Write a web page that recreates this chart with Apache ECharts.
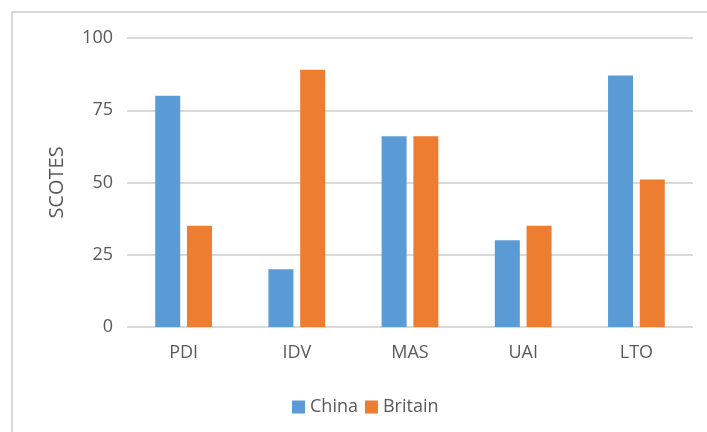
<!DOCTYPE html>
<html>
<head>
<meta charset="utf-8">
<script src="https://cdn.jsdelivr.net/npm/echarts@6/dist/echarts.min.js"></script>
<style>
html,body{margin:0;padding:0;background:#fff;}
#chart{width:707px;height:432px;}
</style>
</head>
<body>
<div id="chart"></div>
<script>
const categories = ['PDI', 'IDV', 'MAS', 'UAI', 'LTO'];
const chinaValues = [80, 20, 66, 30, 87];
const britainValues = [35, 89, 66, 35, 51];
const yTicks = [0, 25, 50, 75, 100];

const chart = echarts.init(document.getElementById('chart'), null, {renderer: 'canvas'});
const font = '"Open Sans", sans-serif';
chart.setOption({
  animation: false,
  backgroundColor: '#ffffff',
  graphic: [{
    type: 'rect',
    shape: {x: 12, y: 12, width: 720, height: 440},
    style: {fill: 'none', stroke: '#d9d9d9', lineWidth: 2},
    silent: true
  }],
  grid: {left: 127, right: 14, top: 38, bottom: 105},
  legend: {
    left: 287, top: 393,
    itemWidth: 13, itemHeight: 13, itemGap: 7,
    icon: 'rect',
    textStyle: {fontFamily: font, fontSize: 18, color: '#595959'},
    data: ['China', 'Britain']
  },
  xAxis: {
    type: 'category',
    data: categories,
    axisLine: {show: false},
    axisTick: {show: false},
    axisLabel: {fontFamily: font, fontSize: 18, color: '#595959', margin: 17}
  },
  yAxis: {
    type: 'value',
    min: yTicks[0], max: yTicks[yTicks.length - 1], interval: 25,
    name: 'SCOTES',
    nameLocation: 'middle',
    nameGap: 60,
    nameTextStyle: {fontFamily: font, fontSize: 20, color: '#595959'},
    axisLine: {show: false},
    axisTick: {show: false},
    axisLabel: {fontFamily: font, fontSize: 18, color: '#595959', margin: 14},
    splitLine: {lineStyle: {color: '#d9d9d9', width: 2}}
  },
  series: [
    {name: 'China', type: 'bar', data: chinaValues, barWidth: 25, barGap: '27%',
     itemStyle: {color: '#5b9bd5'}},
    {name: 'Britain', type: 'bar', data: britainValues, barWidth: 25, barGap: '27%',
     itemStyle: {color: '#ed7d31'}}
  ]
});
</script>
</body>
</html>
